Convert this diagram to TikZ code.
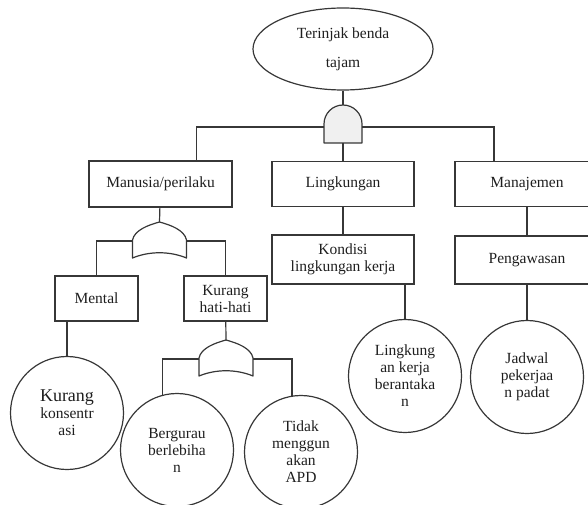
\documentclass[tikz,border=0pt]{standalone}
\usepackage{fontspec}
\setmainfont{Liberation Serif}
\usetikzlibrary{shapes.geometric, calc}
\definecolor{ftline}{RGB}{55,55,55}
\definecolor{fttext}{RGB}{30,30,30}
\definecolor{gatefill}{RGB}{240,240,240}

\begin{document}
\begin{tikzpicture}[
    x=1pt, y=1pt,
    font=\fontsize{15.5}{17}\selectfont,
    line width=1.2pt,
    topev/.style = {ellipse, draw=ftline, text=fttext, minimum width=180pt,
                    minimum height=82pt, align=center, inner sep=0pt},
    box/.style   = {rectangle, draw=ftline, text=fttext, align=center,
                    minimum height=45pt, inner sep=2pt},
    basic/.style = {circle, draw=ftline, text=fttext, align=center,
                    minimum size=113pt, inner sep=0pt},
    link/.style  = {draw=ftline},
    gate/.style  = {draw=ftline, line join=round},
    andgate/.pic = {
      \draw[gate, fill=gatefill] (-19,-19) -- (-19,0)
        arc[start angle=180, end angle=0, radius=19pt] -- (19,-19) -- cycle;
      \coordinate (-in) at (0,19);
      \coordinate (-out) at (0,-19);
      \coordinate (-l) at (-19,-3);
      \coordinate (-r) at (19,-3);
    },
    orgate/.pic = {
      \draw[gate, fill=white] (-27,-18) .. controls (-25,-8) and (-11,-3) .. (0,0)
        .. controls (11,-3) and (25,-8) .. (27,-18) -- (27,-36)
        .. controls (10,-29) and (-10,-29) .. (-27,-36) -- cycle;
      \coordinate (-out) at (0,0);
      \coordinate (-l) at (-27,-19);
      \coordinate (-r) at (27,-19);
    },
]
\useasboundingbox (0,0) rectangle (588,504);
\clip (0,0) rectangle (588,504);

% ---- top event ---------------------------------------------------------------
\node[topev] (event) at (343,455) {Terinjak benda\\[12pt]tajam};
\pic (gA) at (343,380) {andgate};

% ---- causes --------------------------------------------------------------------
\node[box, minimum width=143pt, minimum height=46pt] (manusia) at (160.5,320) {Manusia/perilaku};
\node[box, minimum width=142pt] (lingk) at (343,320) {Lingkungan};
\node[box, minimum width=144pt] (manaj) at (527,320) {Manajemen};
\node[box, minimum width=142pt, minimum height=49pt] (kondisi) at (343,244.5) {Kondisi\\lingkungan kerja};
\node[box, minimum width=144pt, minimum height=48pt] (awas) at (527,244) {Pengawasan};

\pic (gB) at (159.5,282) {orgate};
\node[box, minimum width=83pt] (mental) at (96.5,205.5) {Mental};
\node[box, minimum width=83pt] (hati) at (225.5,205.5) {Kurang\\hati-hati};
\pic (gC) at (226,164) {orgate};

% ---- basic events ----------------------------------------------------------------
\node[basic] (konsen) at (67,91) {{\fontsize{18}{20}\selectfont Kurang}\\konsentr\\asi};
\node[basic] (gurau) at (177,54) {Bergurau\\berlebiha\\n};
\node[basic] (apd) at (301,52) {Tidak\\menggun\\akan\\APD};
\node[basic] (berantak) at (405,128) {Lingkung\\an kerja\\berantaka\\n};
\node[basic] (jadwal) at (527,127) {Jadwal\\pekerjaa\\n padat};

% ---- connectors ------------------------------------------------------------------
\draw[link] (event) -- (gA-in);
\draw[link] (gA-l) -| ([xshift=36pt]manusia.north);
\draw[link] (gA-r) -| ([xshift=-33pt]manaj.north);
\draw[link] (gA-out) -- (lingk.north);

\draw[link] (manusia) -- (gB-out);
\draw[link] (gB-l) -| (mental.north);
\draw[link] (gB-r) -| (hati.north);
\draw[link] (konsen.north |- mental.south) -- (konsen.north);
\draw[link] (hati) -- (gC-out);
\draw[link] (gC-l) -| (gurau.105);
\draw[link] (gC-r) -| (apd.99);

\draw[link] (lingk) -- (kondisi);
\draw[link] (berantak.north |- kondisi.south) -- (berantak.north);
\draw[link] (manaj) -- (awas);
\draw[link] (awas) -- (jadwal);
\end{tikzpicture}
\end{document}
